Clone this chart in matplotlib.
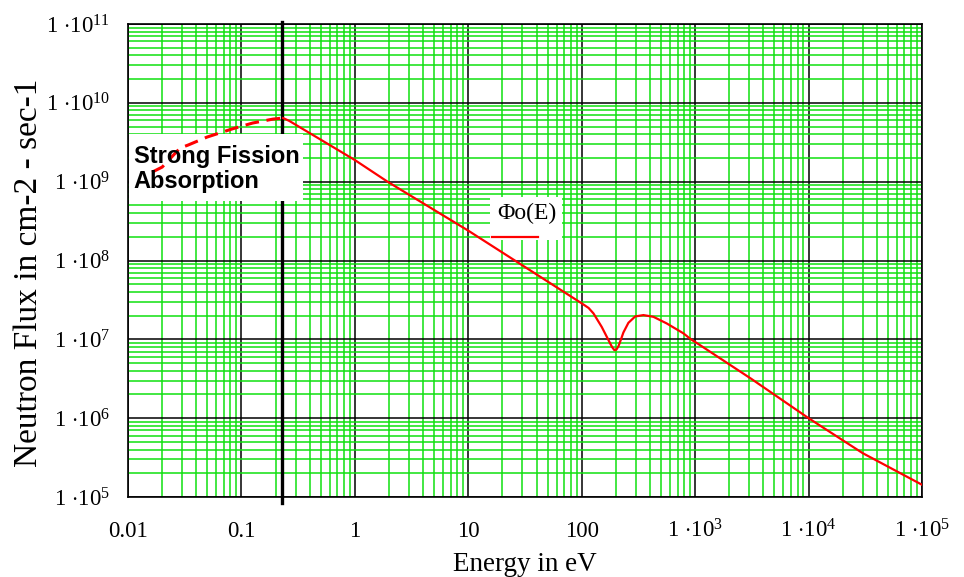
import numpy as np
import matplotlib
matplotlib.use("Agg")
import matplotlib.pyplot as plt
from matplotlib.patches import Rectangle
from matplotlib.lines import Line2D
from matplotlib.ticker import LogLocator, FixedLocator, NullFormatter

plt.rcParams['font.family'] = ['Liberation Serif', 'DejaVu Serif']
plt.rcParams['mathtext.fontset'] = 'custom'
plt.rcParams['mathtext.rm'] = 'Liberation Serif'
plt.rcParams['mathtext.it'] = 'Liberation Serif'

# ---- data ----
# thermal region (dashed, strong fission absorption)
E_thermal = [0.0163, 0.020, 0.0288, 0.0338, 0.0498, 0.0826, 0.126, 0.19, 0.233]
phi_thermal = [1.32e9, 1.53e9, 2.67e9, 2.91e9, 3.68e9, 4.66e9, 5.55e9, 6.22e9, 6.41e9]

# epithermal / fast region (solid)
E_epi = [0.233, 0.264, 1.0, 1.94, 10, 100, 115, 127, 150, 172, 185, 194, 202, 211, 222,
         233, 258, 296, 350, 429, 562, 789, 918, 1070, 3120, 1e4, 3e4, 1e5]
phi_epi = [6.41e9, 5.9e9, 1.88e9, 1.0e9, 2.39e8, 2.86e7, 2.5e7, 2.13e7, 1.44e7, 9.8e6,
           8.0e6, 7.3e6, 7.4e6, 8.2e6, 1.0e7, 1.22e7, 1.62e7, 1.95e7, 2.03e7, 1.93e7,
           1.59e7, 1.19e7, 1.0e7, 8.7e6, 3.16e6, 1.0e6, 3.6e5, 1.43e5]

E_marker = 0.23

x_ticks = [0.01, 0.1, 1, 10, 100, 1e3, 1e4, 1e5]
x_labels = ['0.01', '0.1', '1', '10', '100',
            r'$1\ {\cdot}10^{3}$', r'$1\ {\cdot}10^{4}$', r'$1\ {\cdot}10^{5}$']
y_ticks = [1e5, 1e6, 1e7, 1e8, 1e9, 1e10, 1e11]
y_labels = [r'$1\ {\cdot}10^{%d}$' % k for k in range(5, 12)]

GREEN = '#10e010'

fig = plt.figure(figsize=(9.64, 5.77), dpi=100)
ax = fig.add_axes([128/964, 1-497/577, 794/964, 473/577])
ax.set_xscale('log')
ax.set_yscale('log')
ax.set_xlim(0.01, 1e5)
ax.set_ylim(1e5, 1e11)

ax.xaxis.set_major_locator(FixedLocator(x_ticks))
ax.yaxis.set_major_locator(FixedLocator(y_ticks))
ax.xaxis.set_minor_locator(LogLocator(base=10, subs=np.arange(2, 10), numticks=20))
ax.yaxis.set_minor_locator(LogLocator(base=10, subs=np.arange(2, 10), numticks=20))
ax.xaxis.set_minor_formatter(NullFormatter())
ax.yaxis.set_minor_formatter(NullFormatter())
ax.set_xticklabels(x_labels)
ax.set_yticklabels(y_labels)

ax.grid(which='minor', color=GREEN, lw=1.1)
ax.grid(which='major', color='black', lw=1.1)
ax.tick_params(which='both', length=0)
ax.tick_params(axis='x', labelsize=16.5, pad=29)
ax.tick_params(axis='y', labelsize=16.5, pad=13)
for lab in ax.get_xticklabels():
    lab.set_verticalalignment('baseline')
for sp in ax.spines.values():
    sp.set_linewidth(1.2)

# thick marker line at the thermal peak
ax.axvline(E_marker, ymin=-0.012, ymax=1.005, color='black', lw=2.4,
           zorder=2.8, clip_on=False)

# annotation box
ax.add_patch(Rectangle((0.0015, 0.626), 0.219, 0.141, transform=ax.transAxes,
                       facecolor='white', edgecolor='none', zorder=3))
ax.text(0.007, 0.745, 'Strong Fission\nAbsorption', transform=ax.transAxes,
        ha='left', va='top', fontsize=17, fontweight='bold',
        family=['Liberation Sans', 'DejaVu Sans'], linespacing=1.15, zorder=5)

# curve
ax.plot(E_thermal, phi_thermal, color='red', lw=2.2, ls=(0, (4.5, 2.5)), zorder=4)
ax.plot(E_epi, phi_epi, color='red', lw=1.6, zorder=4)

# legend
ax.add_patch(Rectangle((0.456, 0.543), 0.09, 0.091, transform=ax.transAxes,
                       facecolor='white', edgecolor='none', zorder=3))
ax.text(0.502, 0.600, u'\u03a6o(E)', transform=ax.transAxes, ha='center',
        va='center', fontsize=17, zorder=5)
ax.add_line(Line2D([0.459, 0.516], [0.550, 0.550], transform=ax.transAxes,
                   color='red', lw=1.6, zorder=5))

ax.set_xlabel('Energy in eV', fontsize=19.5)
ax.set_ylabel('Neutron Flux in cm-2 - sec-1', fontsize=24)
ax.xaxis.set_label_coords(0.5, -0.116)
ax.yaxis.set_label_coords(-0.106, 0.474)

fig.savefig('out.png', dpi=100)
